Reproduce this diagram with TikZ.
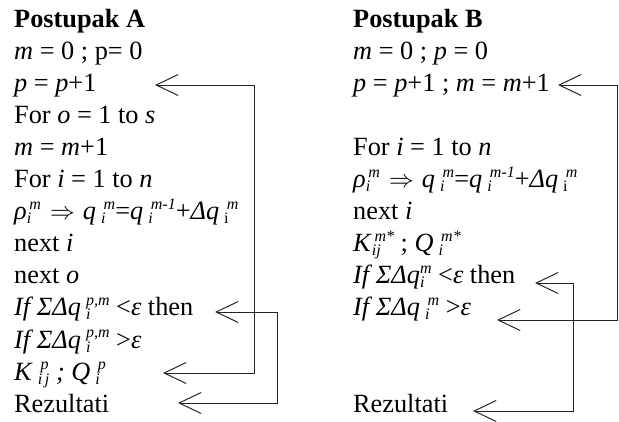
\documentclass[tikz,border=0pt]{standalone}
\usepackage{fontspec}
\setmainfont{Liberation Serif}
\usetikzlibrary{arrows.meta}

% stacked index: sub below, sup above, both left aligned
\newcommand{\stk}[2]{{\fontsize{16}{16}\selectfont\itshape
  \setbox0=\hbox{\raisebox{-4pt}{#1}}\setbox2=\hbox{\raisebox{10.5pt}{#2}}%
  \ifdim\wd0>\wd2 \rlap{\box2}\box0\else\rlap{\box0}\box2\fi}}
\newcommand{\ssq}[3]{\textit{#1}\stk{#2}{#3}}
\newcommand{\ssqs}[3]{\textit{#1}\hspace{5pt}\stk{#2}{#3}}
\newcommand{\rhoq}{\ssq{ρ}{i}{\,m}\hspace{9pt}$\Rightarrow$\hspace{8pt}\ssqs{q}{i}{\,m}=\ssqs{q}{i}{\,m-1}+\textit{Δq}\hspace{5pt}\stk{\upshape i}{\,m}}

\begin{document}
\begin{tikzpicture}[x=1pt,y=-1pt,
  every node/.style={anchor=base west,inner sep=0pt,font=\fontsize{26.3}{32}\selectfont},
  barb/.tip={Straight Barb[length=22pt,width=21pt]},
  link/.style={draw=black!85,line width=1pt,barb-barb}]
  \useasboundingbox (0,0) rectangle (619,421);

  % Postupak A
  \node (a1) at (14,27) {\textbf{Postupak A}};
  \node (a2) at (14,59.1) {\textit{m} = 0 ; p= 0};
  \node (a3) at (14,91.2) {\textit{p} = \textit{p}+1};
  \node (a4) at (14,123.3) {For \textit{o} = 1 to \textit{s}};
  \node (a5) at (14,155.4) {\textit{m} = \textit{m}+1};
  \node (a6) at (14,187.5) {For \textit{i} = 1 to \textit{n}};
  \node (a7) at (14,219.6) {\rhoq};
  \node (a8) at (14,251.7) {next \textit{i}};
  \node (a9) at (14,283.8) {next \textit{o}};
  \node (a10) at (14,315.9) {\ssqs{If ΣΔq}{i}{p,m} <\textit{ε} then};
  \node (a11) at (14,348) {\ssqs{If ΣΔq}{i}{p,m} >\textit{ε}};
  \node (a12) at (14,380.1) {\ssqs{K}{i\,j}{\,p} \textit{;} \ssqs{Q}{i}{\,p}};
  \node (a13) at (14,412.2) {Rezultati};

  % Postupak B
  \node (b1) at (353,27) {\textbf{Postupak B}};
  \node (b2) at (353,59.1) {\textit{m} = 0 ; \textit{p} = 0};
  \node (b3) at (353,91.2) {\textit{p} = \textit{p}+1 ; \textit{m} = \textit{m}+1};
  \node (b5) at (353,155.4) {For \textit{i} = 1 to \textit{n}};
  \node (b6) at (353,187.5) {\rhoq};
  \node (b7) at (353,219.6) {next \textit{i}};
  \node (b8) at (353,251.7) {\ssq{K}{ij}{\,m*} ; \ssqs{Q}{i}{\,m*}};
  \node (b9) at (353,283.8) {\ssq{If ΣΔq}{i}{m} <\textit{ε} then};
  \node (b10) at (353,315.9) {\ssqs{If ΣΔq}{i}{\,m} >\textit{ε}};
  \node (b13) at (353,412.2) {Rezultati};

  % Tips of the return arrows
  \coordinate (ta3) at (155,85);
  \coordinate (ta10) at (215,312);
  \coordinate (ta12) at (163,373);
  \coordinate (ta13) at (178,403);
  \coordinate (tb3) at (558,85);
  \coordinate (tb9) at (535,283);
  \coordinate (tb10) at (497,320);
  \coordinate (tb13) at (473,411);
  \coordinate (va) at (254,0);
  \coordinate (wa) at (277,0);
  \coordinate (vb) at (617,0);
  \coordinate (wb) at (573,0);

  % Return arrows
  \draw[link] (ta3) -| (va |- ta12) -- (ta12);
  \draw[link] (ta10) -| (wa |- ta13) -- (ta13);
  \draw[link] (tb3) -| (vb |- tb10) -- (tb10);
  \draw[link] (tb9) -| (wb |- tb13) -- (tb13);
\end{tikzpicture}
\end{document}
